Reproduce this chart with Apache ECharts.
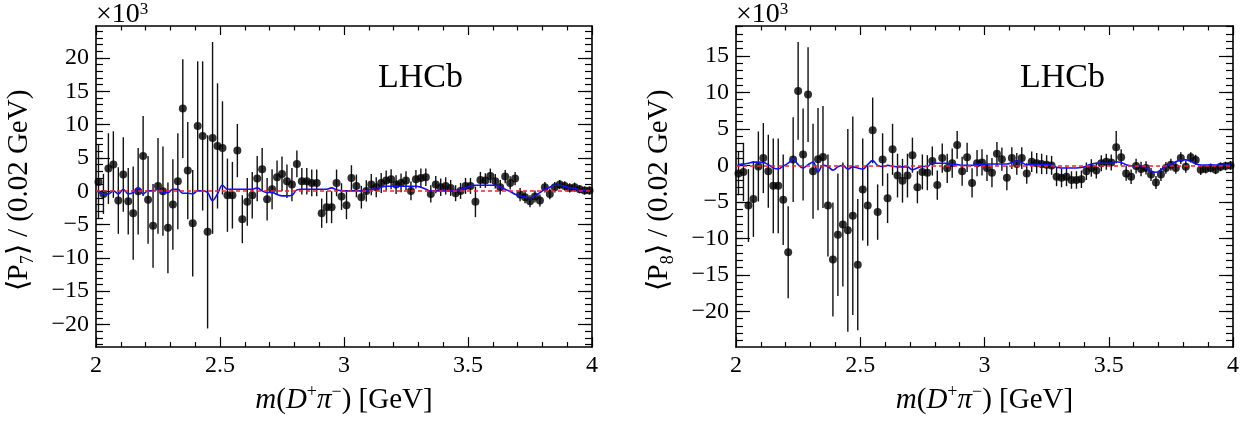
<!DOCTYPE html>
<html>
<head>
<meta charset="utf-8">
<script src="https://cdn.jsdelivr.net/npm/echarts@6/dist/echarts.min.js"></script>
<style>
html, body { margin: 0; padding: 0; background: #fff; }
#chart { width: 1243px; height: 423px; }
</style>
</head>
<body>
<div id="chart"></div>
<script>
// binning of m(D+ pi-): 100 bins of 0.02 GeV from 2 to 4
const binLow = 2.0
const binWidth = 0.02
const binCount = 100
const massCenters = []
for (let i = 0; i < binCount; i++) {
    massCenters.push(+(binLow + binWidth * (i + 0.5)).toFixed(3))
}

// y axis ranges (x10^3) and tick labels
const p7Range = [-23.4, 24.8]
const p8Range = [-24.9, 19.1]
const p7Ticks = [-20, -15, -10, -5, 0, 5, 10, 15, 20]
const p8Ticks = [-20, -15, -10, -5, 0, 5, 10, 15]

// <P7> data points, errors and fit model
const p7Values = [
    1.4, -0.4, 3.4, 4.0, -1.4, 2.5, -1.5, -3.3, 0.0, 5.3,
    -1.3, -5.2, 0.8, 0.0, -5.5, -2.0, 1.5, 12.4, 3.1, -4.8,
    9.8, 8.3, -6.1, 8.0, 6.8, 6.5, -0.6, -0.6, 6.1, -4.2,
    -1.6, -0.6, 1.9, 3.3, -1.2, 0.3, 2.1, 2.6, 1.5, 1.0,
    4.1, 1.5, 1.5, 1.25, 1.25, -3.3, -2.4, -2.4, 1.25, -0.8,
    -2.1, 2.0, 0.8, -0.9, 0.05, 1.0, 0.6, 1.25, 1.6, 1.8,
    1.0, 1.25, 1.6, 0.05, 1.8, 2.0, 2.1, -0.4, 1.0, 0.6,
    0.8, 0.5, -0.3, 0.05, 0.8, 0.8, -1.6, 1.7, 1.6, 2.3,
    1.5, 0.6, 2.2, 1.25, 1.9, -0.5, -0.9, -1.5, -0.8, -1.4,
    0.6, -0.4, 0.6, 1.0, 0.8, 0.5, 0.6, 0.3, 0.1, 0.1,
]
const p7Errors = [
    5.6, 3.0, 5.3, 5.0, 5.0, 5.6, 5.0, 7.0, 6.5, 6.0,
    6.6, 6.3, 7.2, 6.7, 6.8, 6.8, 7.2, 7.4, 7.3, 8.0,
    9.7, 11.2, 14.5, 14.4, 9.4, 7.0, 5.5, 5.0, 4.0, 3.6,
    3.6, 3.5, 3.4, 3.2, 3.2, 3.0, 2.5, 2.6, 2.5, 2.5,
    2.0, 2.0, 2.0, 2.0, 2.0, 2.2, 2.4, 2.4, 2.0, 2.0,
    2.1, 1.9, 1.7, 1.7, 1.6, 1.6, 1.5, 1.5, 1.5, 1.5,
    1.4, 1.4, 1.4, 1.4, 1.4, 1.4, 1.3, 1.3, 1.3, 1.3,
    1.3, 1.2, 1.2, 1.2, 1.2, 1.2, 2.3, 1.2, 1.1, 1.1,
    1.1, 1.1, 1.0, 1.0, 1.0, 1.0, 0.9, 0.9, 0.9, 0.9,
    0.8, 0.8, 0.8, 0.7, 0.7, 0.7, 0.7, 0.6, 0.6, 0.6,
]
const p7Model = [
    -0.2, -0.4, -0.4, 0.05, -0.4, 0.3, -0.4, -0.2, 0.5, -0.4,
    0.05, 0.05, 0.3, -0.2, -0.2, 0.3, 0.3, -0.3, -0.3, -0.4,
    0.05, 0.05, -0.2, -1.4, -0.4, 0.9, 0.3, 0.3, 0.3, 0.3,
    0.3, 0.3, 0.5, 0.05, -0.2, -0.2, -0.5, -0.7, -0.7, -0.6,
    0.2, 0.3, 0.3, 0.3, 0.3, 0.3, 0.3, 0.5, 0.2, 0.05,
    0.05, 0.05, 0.05, 0.05, 0.05, 0.3, 0.3, 0.6, 0.75, 0.75,
    0.75, 0.75, 0.75, 0.75, 0.75, 0.6, 0.3, 0.05, 0.05, 0.05,
    0.05, 0.05, 0.05, 0.3, 0.5, 0.8, 0.9, 0.9, 0.9, 0.9,
    0.9, 0.6, 0.3, -0.05, -0.45, -0.7, -0.9, -1.0, -0.7, -0.2,
    0.3, 0.6, 0.9, 0.9, 0.75, 0.5, 0.45, 0.15, 0.15, 0.15,
]

// <P8> data points, errors and fit model
const p8Values = [
    -1.1, -0.9, -5.5, -4.6, -0.15, 1.0, -0.8, -2.8, -2.8, -4.7,
    -11.9, 0.8, 10.2, 1.5, 9.7, -0.8, 0.85, 1.15, -5.5, -12.9,
    -9.5, -8.1, -8.9, -6.9, -13.6, -3.3, -5.5, 4.8, -6.4, 0.8,
    -4.5, 2.2, -1.4, -2.1, -1.4, 1.4, -3.0, -0.9, -1.0, 0.6,
    -2.7, 1.0, -0.4, 0.3, 2.8, -0.8, 1.1, -2.4, 0.3, 0.4,
    -0.35, -1.0, 1.6, 0.85, -1.7, 1.0, 0.2, 1.0, -1.1, 0.5,
    0.3, 0.2, 0.1, 0.0, -1.55, -1.7, -1.55, -2.0, -2.0, -1.9,
    -0.8, -0.35, -0.7, 0.3, 0.5, 0.4, 2.5, 1.1, -1.1, -1.55,
    -0.1, -0.5, -0.35, -1.25, -2.35, -1.25, -0.35, 0.1, -0.35, 1.0,
    -0.2, 1.1, 0.75, -0.6, -0.5, -0.35, -0.6, -0.2, -0.1, 0.0,
]
const p8Errors = [
    3.0, 4.0, 5.0, 5.2, 4.8, 4.8, 5.0, 6.5, 6.5, 6.2,
    6.3, 5.8, 6.7, 6.3, 6.5, 6.5, 7.0, 7.0, 7.0, 7.8,
    8.4, 8.5, 13.9, 13.6, 9.0, 7.0, 5.5, 4.5, 3.8, 3.6,
    3.4, 3.5, 3.0, 3.0, 3.0, 2.4, 2.2, 2.4, 2.4, 2.0,
    2.0, 2.0, 2.0, 2.0, 1.9, 2.0, 2.0, 2.0, 1.8, 1.8,
    1.8, 2.0, 1.6, 1.6, 1.7, 1.5, 1.5, 1.5, 1.4, 1.4,
    1.4, 1.4, 1.3, 1.3, 1.3, 1.3, 1.3, 1.2, 1.2, 1.2,
    1.2, 1.2, 1.1, 1.1, 1.1, 1.1, 2.2, 1.1, 1.0, 1.0,
    1.0, 1.0, 0.9, 0.9, 0.9, 0.9, 0.8, 0.8, 0.8, 0.8,
    0.8, 0.7, 0.7, 0.7, 0.6, 0.6, 0.6, 0.6, 0.6, 0.6,
]
const p8Model = [
    0.1, 0.2, 0.3, 0.45, 0.45, 0.4, 0.1, -0.35, -0.5, -0.1,
    0.3, 0.9, 0.1, -0.35, 0.1, 0.45, -0.9, 0.0, -0.15, -0.65,
    -0.2, 0.0, -0.5, -0.2, -0.35, -0.5, 0.1, 0.65, 0.0, -0.15,
    0.0, -0.1, -0.2, -0.2, -0.2, -0.6, -0.35, -0.15, -0.15, 0.3,
    0.3, 0.3, 0.3, 0.1, 0.1, 0.0, 0.0, 0.0, 0.15, 0.2,
    0.2, 0.2, 0.2, 0.2, 0.2, 0.4, 0.6, 0.4, 0.1, 0.1,
    0.1, 0.1, 0.1, 0.0, -0.25, -0.35, -0.35, -0.35, -0.35, -0.3,
    -0.1, 0.2, 0.3, 0.3, 0.3, 0.3, 0.5, 0.4, 0.1, -0.05,
    -0.05, -0.05, -0.35, -0.8, -0.95, -0.6, -0.15, 0.2, 0.5, 0.75,
    0.75, 0.55, 0.2, 0.05, 0.05, 0.05, 0.05, 0.05, 0.05, 0.05,
]

const serif = "'Liberation Serif', 'Times New Roman', serif"
const black = '#000'
const minus = v => (v < 0 ? '\u2212' + Math.abs(v) : String(v))

const intRange = ([lo, hi]) => {
    const out = []
    for (let v = Math.ceil(lo); v <= Math.floor(hi); v++) out.push(v)
    return out
}

function xAxesFor(gridIndex) {
    return [
        {
            gridIndex, type: 'value', position: 'bottom', min: 2, max: 4, interval: 0.5,
            axisLine: { onZero: false, lineStyle: { color: black, width: 1.6 } },
            axisTick: { inside: true, length: 10, lineStyle: { color: black, width: 1.2 } },
            minorTick: { show: true, splitNumber: 5, length: 5, lineStyle: { color: black, width: 1.2 } },
            splitLine: { show: false },
            axisLabel: { color: black, fontFamily: serif, fontSize: 24, margin: 7, showMinLabel: true, showMaxLabel: true },
            name: '{it|m}({it|D}{sup|+}{it|\u03c0}{sup|\u2212}) [GeV]',
            nameLocation: 'middle',
            nameGap: 29,
            nameTextStyle: {
                color: black, fontFamily: serif, fontSize: 29, lineHeight: 35,
                rich: {
                    it: { fontStyle: 'italic', fontFamily: serif, fontSize: 29 },
                    sup: { fontFamily: serif, fontSize: 18, lineHeight: 18, verticalAlign: 'top' },
                },
            },
        },
        {
            gridIndex, type: 'value', position: 'top', min: 2, max: 4, interval: 0.5,
            axisLine: { onZero: false, lineStyle: { color: black, width: 1.6 } },
            axisTick: { inside: true, length: 9, lineStyle: { color: black, width: 1.2 } },
            minorTick: { show: true, splitNumber: 5, length: 4.5, lineStyle: { color: black, width: 1.2 } },
            splitLine: { show: false },
            axisLabel: { show: false },
        },
    ]
}

function yAxesFor(gridIndex, range, ticks, sub) {
    const minor = intRange(range)
    const base = { gridIndex, type: 'value', min: range[0], max: range[1], splitLine: { show: false } }
    return [
        {
            ...base, position: 'left',
            axisLine: { show: true, onZero: false, lineStyle: { color: black, width: 1.6 } },
            axisTick: { show: true, inside: true, length: 14, customValues: ticks, lineStyle: { color: black, width: 1.2 } },
            axisLabel: { color: black, fontFamily: serif, fontSize: 24, margin: 7, customValues: ticks, formatter: minus },
            name: '\u00d710{sup|3}',
            nameLocation: 'end',
            nameGap: -3,
            nameTextStyle: {
                color: black, fontFamily: serif, fontSize: 28, lineHeight: 28, align: 'left',
                rich: { sup: { fontFamily: serif, fontSize: 17, lineHeight: 17, verticalAlign: 'top' } },
            },
        },
        {
            ...base, position: 'left',
            axisLine: { show: false, onZero: false },
            axisTick: { show: true, inside: true, length: 7, customValues: minor, lineStyle: { color: black, width: 1.2 } },
            axisLabel: { show: false },
            name: '\u27e8P{sub|' + sub + '}\u27e9 / (0.02 GeV)',
            nameLocation: 'middle',
            nameGap: 59,
            nameTextStyle: {
                color: black, fontFamily: serif, fontSize: 29, lineHeight: 35,
                padding: [0, 8, 0, 0],
                rich: { sub: { fontFamily: serif, fontSize: 18, lineHeight: 18, verticalAlign: 'bottom' } },
            },
        },
        {
            ...base, position: 'right',
            axisLine: { show: true, onZero: false, lineStyle: { color: black, width: 1.6 } },
            axisTick: { show: true, inside: true, length: 14, customValues: ticks, lineStyle: { color: black, width: 1.2 } },
            axisLabel: { show: false, customValues: ticks },
        },
        {
            ...base, position: 'right',
            axisLine: { show: false, onZero: false },
            axisTick: { show: true, inside: true, length: 7, customValues: minor, lineStyle: { color: black, width: 1.2 } },
            axisLabel: { show: false },
        },
    ]
}

const renderErrorBar = (params, api) => {
    const x = api.value(0)
    const v = api.value(1)
    const e = api.value(2)
    const lo = api.coord([x, v - e])
    const hi = api.coord([x, v + e])
    return {
        type: 'line',
        shape: { x1: lo[0], y1: lo[1], x2: hi[0], y2: hi[1] },
        style: { stroke: '#111', lineWidth: 1.4 },
    }
}

function seriesFor(xAxisIndex, yAxisIndex, values, errors, model) {
    return [
        {
            type: 'custom', xAxisIndex, yAxisIndex, z: 2,
            renderItem: renderErrorBar,
            encode: { x: 0, y: 1 },
            data: massCenters.map((m, i) => [m, values[i], errors[i]]),
        },
        {
            type: 'scatter', xAxisIndex, yAxisIndex, z: 3,
            symbol: 'circle', symbolSize: 8,
            itemStyle: { color: black },
            data: massCenters.map((m, i) => [m, values[i]]),
        },
        {
            type: 'line', xAxisIndex, yAxisIndex, z: 4,
            smooth: 0.4, showSymbol: false,
            lineStyle: { color: '#1010ff', width: 1.6 },
            data: massCenters.map((m, i) => [m, model[i]]),
            markLine: {
                silent: true, symbol: 'none', z: 5,
                label: { show: false },
                lineStyle: { color: '#ff2020', type: [4, 3], width: 1.6 },
                data: [{ yAxis: 0 }],
            },
        },
    ]
}

const chart = echarts.init(document.getElementById('chart'), null, { renderer: 'canvas' })
chart.setOption({
    backgroundColor: '#fff',
    animation: false,
    title: [
        { text: 'LHCb', left: 378, top: 61, padding: 0, textStyle: { fontFamily: serif, fontSize: 34, fontWeight: 'normal', color: black } },
        { text: 'LHCb', left: 1020, top: 61, padding: 0, textStyle: { fontFamily: serif, fontSize: 34, fontWeight: 'normal', color: black } },
    ],
    grid: [
        { left: 96, top: 26, width: 496, height: 330 },
        { left: 736, top: 26, width: 497, height: 330 },
    ],
    xAxis: [...xAxesFor(0), ...xAxesFor(1)],
    yAxis: [...yAxesFor(0, p7Range, p7Ticks, '7'), ...yAxesFor(1, p8Range, p8Ticks, '8')],
    series: [
        ...seriesFor(0, 0, p7Values, p7Errors, p7Model),
        ...seriesFor(2, 4, p8Values, p8Errors, p8Model),
    ],
})
</script>
</body>
</html>
